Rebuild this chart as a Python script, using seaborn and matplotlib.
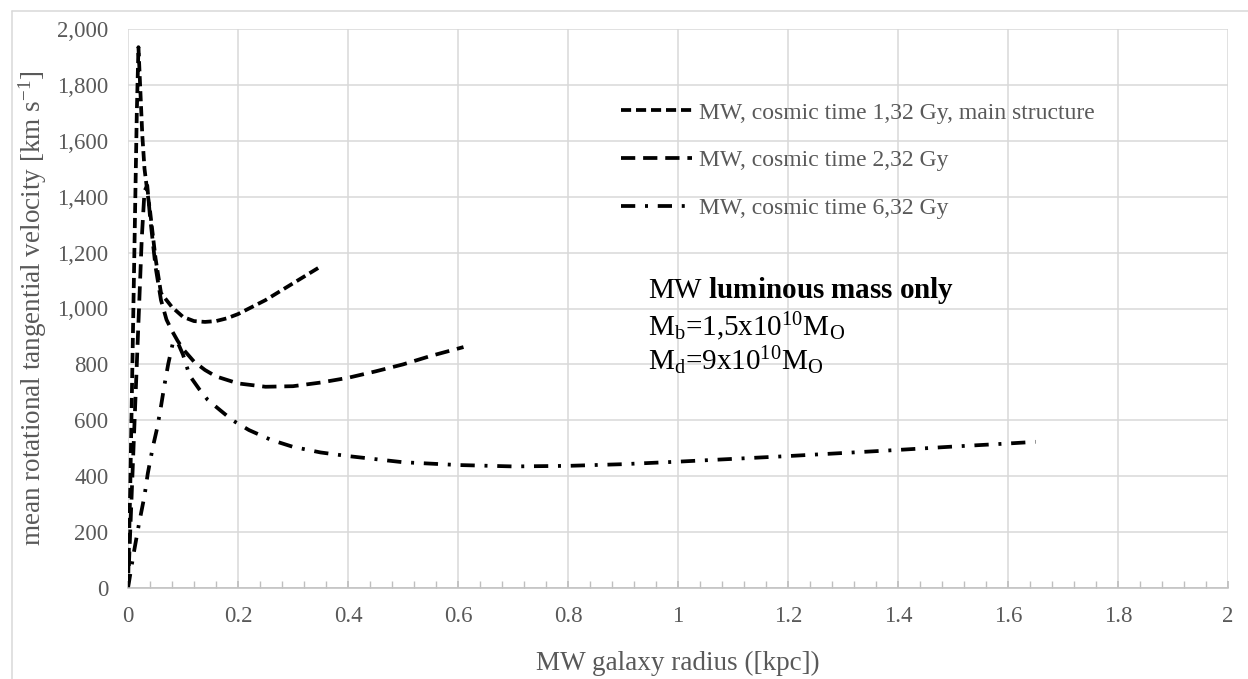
import matplotlib
matplotlib.use("Agg")
import matplotlib.pyplot as plt
import seaborn as sns
import pandas as pd
from matplotlib.lines import Line2D

# ---- data ----
x_s1 = [0, 0.004, 0.008, 0.012, 0.016, 0.019, 0.022, 0.026, 0.03, 0.035, 0.04, 0.05, 0.06, 0.07,
        0.08, 0.1, 0.12, 0.14, 0.16, 0.18, 0.2, 0.25, 0.3, 0.35]
y_s1 = [0, 350, 800, 1250, 1700, 1935, 1800, 1620, 1500, 1420, 1350, 1180, 1055, 1030,
        1005, 970, 955, 952, 955, 965, 980, 1030, 1090, 1150]

x_s2 = [0, 0.005, 0.01, 0.015, 0.02, 0.025, 0.03, 0.035, 0.04, 0.05, 0.06, 0.07, 0.08, 0.09,
        0.1, 0.12, 0.14, 0.16, 0.2, 0.25, 0.3, 0.35, 0.4, 0.45, 0.5, 0.55, 0.61]
y_s2 = [0, 250, 500, 750, 1000, 1250, 1420, 1440, 1330, 1150, 1030, 960, 920, 885,
        855, 810, 780, 757, 732, 720, 722, 735, 752, 775, 800, 830, 862]

x_s3 = [0, 0.005, 0.01, 0.02, 0.03, 0.036, 0.045, 0.053, 0.06, 0.066, 0.073, 0.082, 0.09, 0.1,
        0.112, 0.13, 0.145, 0.167, 0.19, 0.22, 0.26, 0.3, 0.35, 0.4, 0.5, 0.6, 0.7, 0.8, 0.9,
        1.0, 1.1, 1.2, 1.3, 1.4, 1.5, 1.6, 1.65]
y_s3 = [0, 60, 120, 230, 330, 410, 503, 572, 650, 723, 800, 881, 880, 835,
        760, 710, 673, 637, 600, 565, 530, 505, 485, 472, 450, 440, 435, 437, 443,
        452, 462, 472, 483, 494, 506, 517, 523]

labels = ["MW, cosmic time 1,32 Gy, main structure",
          "MW, cosmic time 2,32 Gy",
          "MW, cosmic time 6,32 Gy"]
x_ticks = [0, 0.2, 0.4, 0.6, 0.8, 1, 1.2, 1.4, 1.6, 1.8, 2]
x_tick_labels = ["0", "0.2", "0.4", "0.6", "0.8", "1", "1.2", "1.4", "1.6", "1.8", "2"]
y_ticks = list(range(0, 2001, 200))
y_tick_labels = [f"{v:,}" for v in y_ticks]

# ---- style ----
sns.set_theme(style="white")
plt.rcParams["font.family"] = ["Liberation Serif", "DejaVu Serif"]
plt.rcParams["mathtext.fontset"] = "custom"
plt.rcParams["mathtext.rm"] = "Liberation Serif"
plt.rcParams["mathtext.bf"] = "Liberation Serif:bold"
plt.rcParams["mathtext.it"] = "Liberation Serif:italic"

GRAY_TXT = "#595959"
GRID = "#D9D9D9"

fig = plt.figure(figsize=(12.48, 6.79), dpi=100)
ax = fig.add_axes([128 / 1248, (679 - 588) / 679, 1100 / 1248, (588 - 29) / 679])

styles = [(0, (2.7, 1.3)), (0, (3.8, 2.1)), (0, (3.8, 2.6, 0.8, 2.6))]
series = [(x_s1, y_s1), (x_s2, y_s2), (x_s3, y_s3)]
for (xs, ys), lab, ls in zip(series, labels, styles):
    df = pd.DataFrame({"r": xs, "v": ys})
    sns.lineplot(data=df, x="r", y="v", ax=ax, color="black", linewidth=2.7,
                 linestyle=ls, label=lab, estimator=None, sort=False)

ax.set_xlim(0, 2)
ax.set_ylim(0, 2000)
ax.set_xticks(x_ticks)
ax.set_xticklabels(x_tick_labels)
ax.set_yticks(y_ticks)
ax.set_yticklabels(y_tick_labels)
ax.set_xticks([i * 0.04 for i in range(51)], minor=True)
ax.grid(True, which="major", color=GRID, linewidth=1.1)
ax.set_axisbelow(True)
for s in ["top", "right", "left"]:
    ax.spines[s].set_visible(False)
ax.spines["bottom"].set_color("#BFBFBF")
ax.spines["bottom"].set_linewidth(1.1)
ax.tick_params(axis="x", which="both", direction="in", length=5, color="#BFBFBF",
               labelsize=16.5, labelcolor=GRAY_TXT, pad=13, bottom=True)
ax.tick_params(axis="y", which="both", length=0, labelsize=16.5, labelcolor=GRAY_TXT, pad=14)

ax.set_xlabel("MW galaxy radius ([kpc])", fontsize=19.5, color=GRAY_TXT)
ax.set_ylabel("mean rotational tangential velocity [km s$^{-1}$]", fontsize=19.5,
              color=GRAY_TXT)
ax.xaxis.set_label_coords(0.5, -0.112)
ax.yaxis.set_label_coords(-0.072, 0.5)

leg = ax.legend(loc="upper left", bbox_to_anchor=(621 / 1248, 1 - 102 / 679),
                bbox_transform=fig.transFigure, frameon=False, fontsize=17,
                handlelength=3.0, handletextpad=0.3, labelspacing=1.11,
                borderpad=0, borderaxespad=0)
for t in leg.get_texts():
    t.set_color(GRAY_TXT)

ax.text(0.945, 1064, "MW $\\mathbf{luminous\\ mass\\ only}$", fontsize=21, color="black",
        va="center", ha="left")
ax.text(0.945, 935, "M$_\\mathrm{b}$=1,5x10$^{10}$M$_\\mathrm{O}$", fontsize=21,
        color="black", va="center", ha="left")
ax.text(0.945, 815, "M$_\\mathrm{d}$=9x10$^{10}$M$_\\mathrm{O}$", fontsize=21,
        color="black", va="center", ha="left")

# chart-area border (top and left)
fig.add_artist(Line2D([12 / 1248, 12 / 1248], [0, 1 - 11 / 679], transform=fig.transFigure,
                      color="#D9D9D9", linewidth=1.1))
fig.add_artist(Line2D([12 / 1248, 1], [1 - 11 / 679, 1 - 11 / 679], transform=fig.transFigure,
                      color="#D9D9D9", linewidth=1.1))

fig.savefig("out.png", dpi=100, facecolor="white")
